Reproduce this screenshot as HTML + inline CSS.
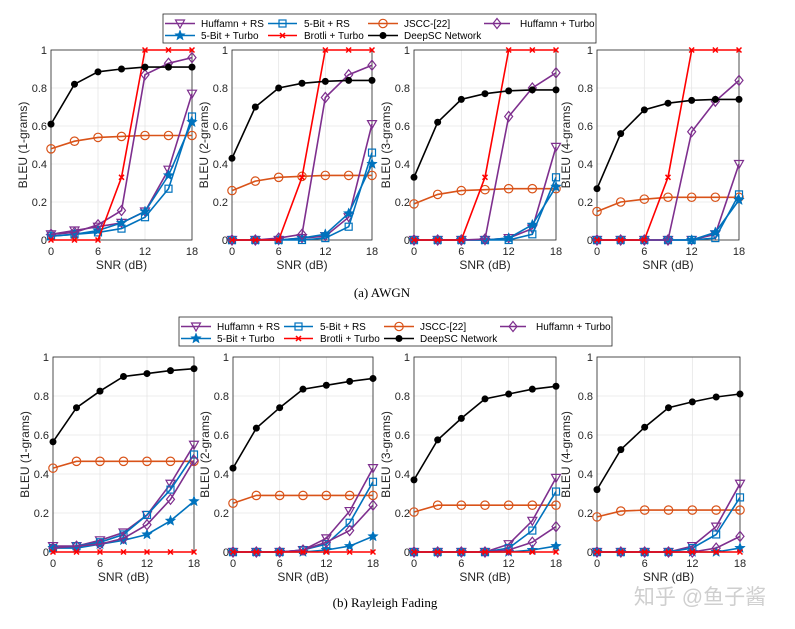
<!DOCTYPE html>
<html><head><meta charset="utf-8">
<style>
html,body{margin:0;padding:0;background:#fff;width:795px;height:629px;overflow:hidden}
svg{display:block;font-family:"Liberation Sans",Arial,sans-serif}
</style></head>
<body>
<svg id="fig" width="795" height="629" viewBox="0 0 795 629" xmlns="http://www.w3.org/2000/svg">
<text x="382" y="297" font-family="Liberation Serif,serif" font-size="13" text-anchor="middle">(a)  AWGN</text>
<text x="385" y="607" font-family="Liberation Serif,serif" font-size="13" text-anchor="middle">(b)  Rayleigh Fading</text>
<text x="700" y="604" font-family="Liberation Sans,'Noto Sans CJK SC',sans-serif" font-size="21" fill="#cfcfcf" text-anchor="middle">知乎 @鱼子酱</text>
</svg>
<script>
const snr = [0,3,6,9,12,15,18];
const xTicks = [0,6,12,18];
const yTicks = [0,0.2,0.4,0.6,0.8,1];
const yTickLabels = ['0','0.2','0.4','0.6','0.8','1'];
const seriesNames = ['Huffamn + RS','5-Bit + RS','JSCC-[22]','Huffamn + Turbo','5-Bit + Turbo','Brotli + Turbo','DeepSC Network'];
const yLabels = ['BLEU (1-grams)','BLEU (2-grams)','BLEU (3-grams)','BLEU (4-grams)'];
// AWGN
const awgnHuffRS = [[0.03,0.05,0.07,0.09,0.15,0.37,0.77],[0,0,0,0.01,0.02,0.12,0.61],[0,0,0,0,0.01,0.06,0.49],[0,0,0,0,0,0.03,0.40]];
const awgn5bitRS = [[0.02,0.03,0.04,0.06,0.12,0.27,0.65],[0,0,0,0,0.01,0.07,0.46],[0,0,0,0,0,0.03,0.33],[0,0,0,0,0,0.01,0.24]];
const awgnJSCC = [[0.48,0.52,0.54,0.545,0.55,0.55,0.55],[0.26,0.31,0.33,0.335,0.34,0.34,0.34],[0.19,0.24,0.26,0.265,0.27,0.27,0.27],[0.15,0.20,0.215,0.225,0.225,0.225,0.225]];
const awgnHuffTurbo = [[0.03,0.04,0.08,0.155,0.87,0.93,0.96],[0,0,0.01,0.03,0.75,0.87,0.92],[0,0,0,0.005,0.65,0.80,0.88],[0,0,0,0,0.57,0.73,0.84]];
const awgn5bitTurbo = [[0.02,0.03,0.05,0.09,0.15,0.34,0.62],[0,0,0,0.01,0.03,0.14,0.40],[0,0,0,0,0.01,0.08,0.28],[0,0,0,0,0,0.04,0.21]];
const awgnBrotli = [[0,0,0,0.33,1,1,1],[0,0,0,0.33,1,1,1],[0,0,0,0.33,1,1,1],[0,0,0,0.33,1,1,1]];
const awgnDeepSC = [[0.61,0.82,0.885,0.9,0.91,0.91,0.91],[0.43,0.70,0.80,0.825,0.835,0.84,0.84],[0.33,0.62,0.74,0.77,0.785,0.79,0.79],[0.27,0.56,0.685,0.72,0.735,0.74,0.74]];
// Rayleigh
const rayHuffRS = [[0.03,0.03,0.06,0.10,0.19,0.35,0.55],[0,0,0,0.01,0.07,0.21,0.43],[0,0,0,0,0.04,0.16,0.38],[0,0,0,0,0.03,0.13,0.35]];
const ray5bitRS = [[0.02,0.03,0.05,0.09,0.19,0.32,0.50],[0,0,0,0.01,0.04,0.15,0.36],[0,0,0,0,0.02,0.11,0.31],[0,0,0,0,0.02,0.09,0.28]];
const rayJSCC = [[0.43,0.465,0.465,0.465,0.465,0.465,0.465],[0.25,0.29,0.29,0.29,0.29,0.29,0.29],[0.205,0.24,0.24,0.24,0.24,0.24,0.24],[0.18,0.21,0.215,0.215,0.215,0.215,0.215]];
const rayHuffTurbo = [[0.02,0.03,0.04,0.07,0.14,0.27,0.47],[0,0,0,0.01,0.05,0.11,0.24],[0,0,0,0,0.01,0.05,0.13],[0,0,0,0,0,0.02,0.08]];
const ray5bitTurbo = [[0.02,0.02,0.04,0.06,0.09,0.16,0.26],[0,0,0,0,0.01,0.03,0.08],[0,0,0,0,0,0.01,0.03],[0,0,0,0,0,0,0.02]];
const rayBrotli = [[0,0,0,0,0,0,0],[0,0,0,0,0,0,0],[0,0,0,0,0,0,0],[0,0,0,0,0,0,0]];
const rayDeepSC = [[0.565,0.74,0.825,0.90,0.915,0.93,0.94],[0.43,0.635,0.74,0.835,0.855,0.875,0.89],[0.37,0.575,0.685,0.785,0.81,0.835,0.85],[0.32,0.525,0.64,0.74,0.77,0.795,0.81]];

const NS='http://www.w3.org/2000/svg';
const svg=document.getElementById('fig');
function mk(tag,attrs,parent){const e=document.createElementNS(NS,tag);for(const k in attrs)e.setAttribute(k,attrs[k]);(parent||svg).appendChild(e);return e;}
const colors=['#7E2F8E','#0072BD','#D95319','#7E2F8E','#0072BD','#FF0000','#000000'];
const markers=['tri','sq','circ','dia','star','x','dot'];
function marker(type,x,y,c,g){
  let e;
  if(type==='tri') e=mk('polygon',{points:`${x-4.5},${y-3.5} ${x+4.5},${y-3.5} ${x},${y+4.5}`,fill:'none',stroke:c,'stroke-width':1.2},g);
  else if(type==='sq') e=mk('rect',{x:x-3.5,y:y-3.5,width:7,height:7,fill:'none',stroke:c,'stroke-width':1.2},g);
  else if(type==='circ') e=mk('circle',{cx:x,cy:y,r:4.2,fill:'none',stroke:c,'stroke-width':1.2},g);
  else if(type==='dia') e=mk('polygon',{points:`${x},${y-5} ${x+4},${y} ${x},${y+5} ${x-4},${y}`,fill:'none',stroke:c,'stroke-width':1.2},g);
  else if(type==='star'){let p=[];for(let i=0;i<10;i++){const r=i%2?2.3:5.5,a=-Math.PI/2+i*Math.PI/5;p.push((x+r*Math.cos(a)).toFixed(1)+','+(y+r*Math.sin(a)).toFixed(1));}e=mk('polygon',{points:p.join(' '),fill:c,stroke:c,'stroke-width':0.5},g);}
  else if(type==='x'){e=mk('path',{d:`M${x-2.5},${y-2.5}L${x+2.5},${y+2.5}M${x-2.5},${y+2.5}L${x+2.5},${y-2.5}`,stroke:c,'stroke-width':1.5},g);}
  else e=mk('circle',{cx:x,cy:y,r:3.5,fill:c},g);
  
  
}
const topX=[[51,192],[232,372],[414,556],[597,739]];
const botX=[[53,194],[233,373],[414,556],[597,740]];
function panel(px,y0,y1,ylab,series,name,ylabX){
  const g=mk('g',{});
  
  
  const sx=v=>px[0]+(v-0)/18*(px[1]-px[0]);
  const sy=v=>y0+(v)*(y1-y0);
  xTicks.forEach(t=>{const l=mk('line',{x1:sx(t),x2:sx(t),y1:sy(0),y2:sy(1),stroke:'#e6e6e6','stroke-width':0.8},g);});
  yTicks.forEach(t=>{const l=mk('line',{x1:px[0],x2:px[1],y1:sy(t),y2:sy(t),stroke:'#e6e6e6','stroke-width':0.8},g);});
  const box=mk('rect',{x:px[0],y:sy(1),width:px[1]-px[0],height:sy(0)-sy(1),fill:'none',stroke:'#262626','stroke-width':0.8},g);
  
  xTicks.forEach(t=>{const tx=mk('text',{x:sx(t),y:sy(0)+15,'font-size':11,'text-anchor':'middle',fill:'#262626'},g);tx.textContent=t;});
  yTicks.forEach((t,i)=>{const tx=mk('text',{x:px[0]-4,y:sy(t)+4,'font-size':11,'text-anchor':'end',fill:'#262626'},g);tx.textContent=yTickLabels[i];});
  const xl=mk('text',{x:(px[0]+px[1])/2,y:sy(0)+29,'font-size':12,'text-anchor':'middle',fill:'#262626'},g);xl.textContent='SNR (dB)';
  
  const ym=(sy(0)+sy(1))/2;
  const yl=mk('text',{x:ylabX,y:ym,'font-size':12,'text-anchor':'middle',fill:'#262626',transform:`rotate(-90 ${ylabX} ${ym})`},g);yl.textContent=ylab;
  
  const order=[2,0,1,4,3,5,6];
  order.forEach(si=>{
    const vals=series[si];const c=colors[si];
    const pl=mk('polyline',{points:vals.map((v,i)=>sx(snr[i]).toFixed(1)+','+sy(v).toFixed(1)).join(' '),fill:'none',stroke:c,'stroke-width':1.6},g);
    
    vals.forEach((v,i)=>marker(markers[si],sx(snr[i]),sy(v),c,g));
  });
}
function legend(x,y,name){
  const g=mk('g',{});
  
  
  mk('rect',{x:x,y:y,width:433,height:29,fill:'#fff',stroke:'#262626','stroke-width':0.8},g);
  const cols=[[2,32,38],[105,134,141],[205,235,241],[321,347,357]];
  const layout=[[0,0],[1,0],[2,0],[3,0],[0,1],[1,1],[2,1]];
  layout.forEach((p,si)=>{
    const cx=cols[p[0]],yy=y+9.5+p[1]*12;
    const l=mk('line',{x1:x+cx[0],x2:x+cx[1],y1:yy,y2:yy,stroke:colors[si],'stroke-width':1.6},g);
    
    marker(markers[si],x+(cx[0]+cx[1])/2,yy,colors[si],g);
    const t=mk('text',{x:x+cx[2],y:yy+3.5,'font-size':10,fill:'#000'},g);t.textContent=seriesNames[si];
    
  });
}
const ylabTop=[27,208,390,570],ylabBot=[29,209,390,570];
for(let k=0;k<4;k++){
  panel(topX[k],240,50,yLabels[k],[awgnHuffRS[k],awgn5bitRS[k],awgnJSCC[k],awgnHuffTurbo[k],awgn5bitTurbo[k],awgnBrotli[k],awgnDeepSC[k]],'awgn-panel-'+(k+1),ylabTop[k]);
  panel(botX[k],552,357,yLabels[k],[rayHuffRS[k],ray5bitRS[k],rayJSCC[k],rayHuffTurbo[k],ray5bitTurbo[k],rayBrotli[k],rayDeepSC[k]],'rayleigh-panel-'+(k+1),ylabBot[k]);
}
legend(163,14,'legend-awgn');
legend(179,317,'legend-rayleigh');
</script>
</body></html>
